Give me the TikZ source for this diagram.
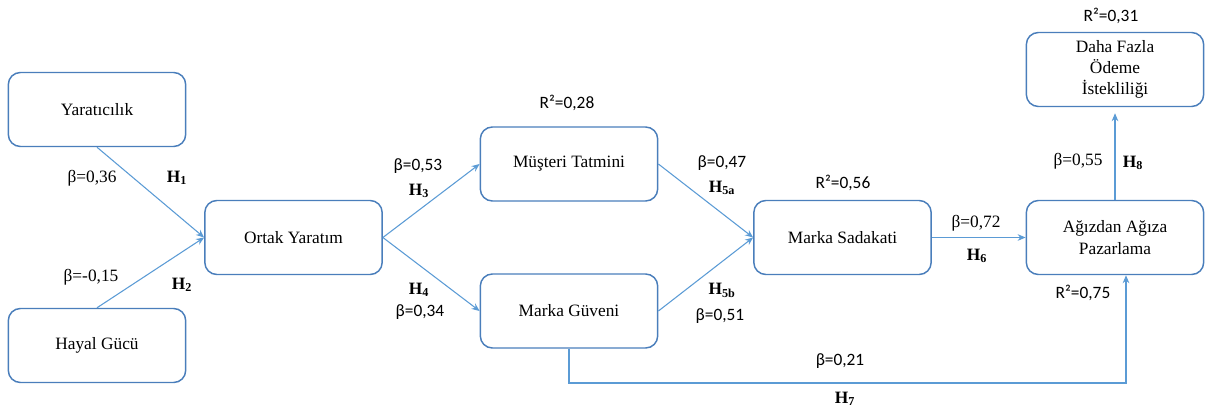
\documentclass[tikz,border=0pt]{standalone}
\usepackage{fontspec}
\setmainfont{Liberation Serif}
\newfontfamily\labelsans{Carlito}
\usetikzlibrary{arrows.meta}
\definecolor{boxblue}{HTML}{4A7EBB}
\definecolor{lineblue}{HTML}{5B9BD5}
\tikzset{
  construct/.style={draw=boxblue, line width=1.1pt, rounded corners=9pt,
    minimum width=133pt, minimum height=55.5pt, align=center,
    font=\fontsize{13}{16}\selectfont, inner sep=2pt},
  path arrow/.style={draw=lineblue, line width=0.8pt,
    -{Stealth[length=6pt,width=5pt]}},
  coefs/.style={font=\labelsans\fontsize{13}{15}\selectfont, inner sep=0pt},
  coefr/.style={font=\fontsize{13}{15}\selectfont, inner sep=0pt},
  hyp/.style={font=\bfseries\fontsize{13}{15}\selectfont, inner sep=0pt}
}
\begin{document}
\begin{tikzpicture}[x=0.75pt, y=-0.75pt]
\useasboundingbox (0,0) rectangle (1206,412);

% latent constructs
\node[construct] (yar)  at (97,109.5)   {Yaratıcılık};
\node[construct] (hay)  at (97,345.5)   {Hayal Gücü};
\node[construct] (ort)  at (293.5,237.5) {Ortak Yaratım};
\node[construct] (mus)  at (569,164)    {Müşteri Tatmini};
\node[construct] (mg)   at (569,311)    {Marka Güveni};
\node[construct] (ms)   at (842.5,237.5) {Marka Sadakati};
\node[construct] (agz)  at (1115,237.5) {Ağızdan Ağıza\\Pazarlama};
\node[construct] (daha) at (1115,69.5)  {Daha Fazla\\Ödeme\\İstekliliği};

% structural paths
\draw[path arrow] (yar.south) -- (ort.west);
\draw[path arrow] (hay.north) -- (ort.west);
\draw[path arrow] (ort.east) -- (mus.west);
\draw[path arrow] (ort.east) -- (mg.west);
\draw[path arrow] (mus.east) -- (ms.west);
\draw[path arrow] (mg.east) -- (ms.west);
\draw[path arrow] (ms.east) -- (agz.west);
\draw[path arrow, shorten >=4.5pt] (agz.north) -- (daha.south);
\coordinate (h7turn) at (1126,383);
\draw[path arrow] (mg.south) |- (h7turn) -- (h7turn |- agz.south);

% path coefficients and hypotheses
\node[coefr] (b1) at (92,178)  {β=0,36};
\node[hyp]   (h1) at (177,178) {H\textsubscript{1}};
\node[coefr] (b2) at (91,277)  {β=-0,15};
\node[hyp]   (h2) at (182,285) {H\textsubscript{2}};
\node[coefs] (b3) at (418,166) {β=0,53};
\node[hyp]   (h3) at (419,191) {H\textsubscript{3}};
\node[hyp]   (h4) at (419,290) {H\textsubscript{4}};
\node[coefs] (b4) at (420,312) {β=0,34};
\node[coefs] (b5a) at (722,163) {β=0,47};
\node[hyp]   (h5a) at (722,188) {H\textsubscript{5a}};
\node[hyp]   (h5b) at (722,290) {H\textsubscript{5b}};
\node[coefs] (b5b) at (720,316) {β=0,51};
\node[coefr] (b6) at (976,223) {β=0,72};
\node[hyp]   (h6) at (977,256) {H\textsubscript{6}};
\node[coefs] (b7) at (840,361) {β=0,21};
\node[hyp]   (h7) at (845,399) {H\textsubscript{7}};
\node[coefr] (b8) at (1078,161) {β=0,55};
\node[hyp]   (h8) at (1133,163) {H\textsubscript{8}};

% explained variance
\node[coefs] (r1) at (567,103)  {R²=0,28};
\node[coefs] (r2) at (843,183)  {R²=0,56};
\node[coefs] (r3) at (1083,293) {R²=0,75};
\node[coefs] (r4) at (1111,16)  {R²=0,31};
\end{tikzpicture}
\end{document}
